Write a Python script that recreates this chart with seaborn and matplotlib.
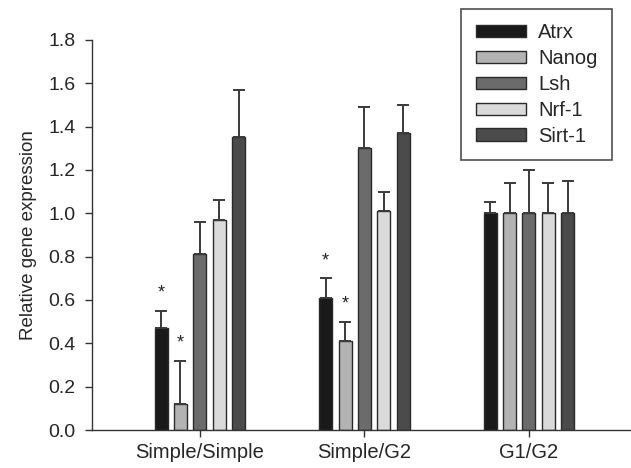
import pandas as pd
import matplotlib
matplotlib.use("Agg")
import matplotlib.pyplot as plt
import seaborn as sns

# data
groups = ["Simple/Simple", "Simple/G2", "G1/G2"]
genes = ["Atrx", "Nanog", "Lsh", "Nrf-1", "Sirt-1"]
means = {
    "Atrx":   [0.47, 0.61, 1.00],
    "Nanog":  [0.12, 0.41, 1.00],
    "Lsh":    [0.81, 1.30, 1.00],
    "Nrf-1":  [0.97, 1.01, 1.00],
    "Sirt-1": [1.35, 1.37, 1.00],
}
errors = {
    "Atrx":   [0.08, 0.09, 0.05],
    "Nanog":  [0.20, 0.09, 0.14],
    "Lsh":    [0.15, 0.19, 0.20],
    "Nrf-1":  [0.09, 0.09, 0.14],
    "Sirt-1": [0.22, 0.13, 0.15],
}
# significance stars (gene, group)
stars = [("Atrx", 0), ("Nanog", 0), ("Atrx", 1), ("Nanog", 1)]

colors = {
    "Atrx": "#1a1a1a",
    "Nanog": "#b3b3b3",
    "Lsh": "#6b6b6b",
    "Nrf-1": "#dadada",
    "Sirt-1": "#4b4b4b",
}

rows = []
for g in genes:
    for i, grp in enumerate(groups):
        rows.append({"group": grp, "gene": g, "value": means[g][i]})
df = pd.DataFrame(rows)

sns.set_style("ticks")
plt.rcParams["font.family"] = ["Liberation Sans", "DejaVu Sans"]

fig = plt.figure(figsize=(6.31, 4.68), dpi=100)
ax = fig.add_axes([0.146, 0.081, 0.854, 0.834])

sns.barplot(data=df, x="group", y="value", hue="gene", order=groups,
            hue_order=genes, palette=colors, width=0.59, gap=0.33,
            edgecolor="#2a2a2a", linewidth=1, errorbar=None, ax=ax)

# one-sided error bars + stars
for gene, cont in zip(genes, ax.containers):
    for i, bar in enumerate(cont):
        xc = bar.get_x() + bar.get_width() / 2
        h = bar.get_height()
        ax.errorbar(xc, h, yerr=[[0], [errors[gene][i]]], fmt="none",
                    ecolor="#3a3a3a", elinewidth=1.4, capsize=4,
                    capthick=1.4, zorder=1)
        if (gene, i) in stars:
            ax.text(xc, h + errors[gene][i] + 0.08, "*", ha="center",
                    va="center", fontsize=13, color="#222222")

ax.set_ylim(0, 1.8)
ax.set_xlim(-0.655, 2.62)
ax.set_yticks([0.0, 0.2, 0.4, 0.6, 0.8, 1.0, 1.2, 1.4, 1.6, 1.8])
ax.set_yticklabels([f"{v:.1f}" for v in ax.get_yticks()])
ax.set_xlabel("")
ax.set_ylabel("Relative gene expression", fontsize=13.5, labelpad=8)
ax.tick_params(axis="y", labelsize=14, direction="out", length=5,
               color="#333333", width=1, pad=7)
ax.tick_params(axis="x", labelsize=14.5, direction="out", length=5,
               color="#333333", width=1, pad=4)
for s in ["top", "right"]:
    ax.spines[s].set_visible(False)
for s in ["left", "bottom"]:
    ax.spines[s].set_color("#333333")
    ax.spines[s].set_linewidth(1)

leg = ax.legend(loc="upper right", bbox_to_anchor=(0.970, 0.981),
                bbox_transform=fig.transFigure, borderaxespad=0,
                fancybox=False, frameon=True, edgecolor="#222222",
                fontsize=14.5, handlelength=2.5, handleheight=0.57,
                labelspacing=0.34, borderpad=0.72, handletextpad=0.6,
                title=None)
leg.get_frame().set_linewidth(1.2)

fig.savefig("out.png", dpi=100)
